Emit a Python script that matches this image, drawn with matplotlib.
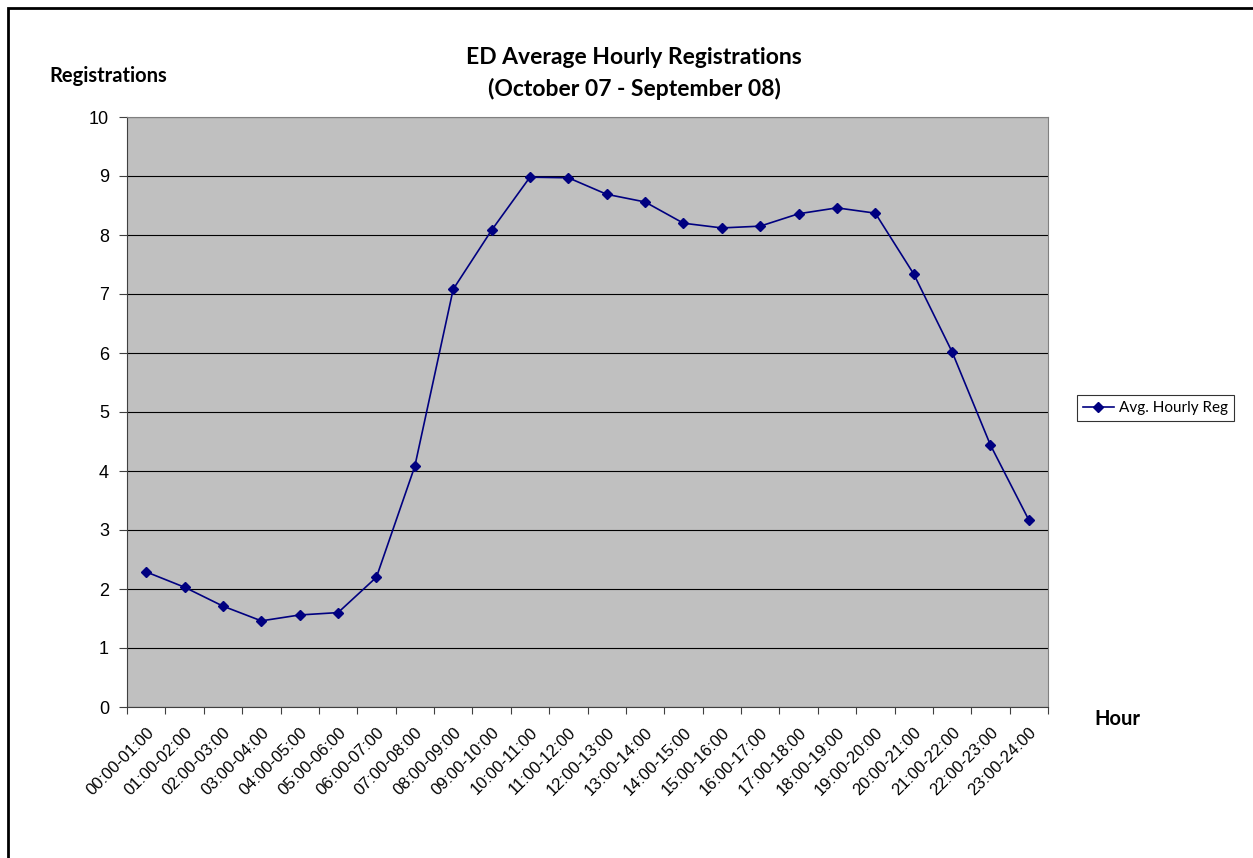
import matplotlib.pyplot as plt
import numpy as np
from matplotlib.patches import Rectangle

# hourly slots and average registrations
hours = ["00:00-01:00", "01:00-02:00", "02:00-03:00", "03:00-04:00", "04:00-05:00",
         "05:00-06:00", "06:00-07:00", "07:00-08:00", "08:00-09:00", "09:00-10:00",
         "10:00-11:00", "11:00-12:00", "12:00-13:00", "13:00-14:00", "14:00-15:00",
         "15:00-16:00", "16:00-17:00", "17:00-18:00", "18:00-19:00", "19:00-20:00",
         "20:00-21:00", "21:00-22:00", "22:00-23:00", "23:00-24:00"]
avg_reg = [2.29, 2.03, 1.71, 1.46, 1.56, 1.60, 2.20, 4.08, 7.08, 8.08,
           8.98, 8.97, 8.69, 8.56, 8.20, 8.12, 8.15, 8.36, 8.46, 8.37,
           7.34, 6.02, 4.44, 3.17]

fig = plt.figure(figsize=(12.53, 8.58), dpi=100)
ax = fig.add_axes([127 / 1253, 1 - 707 / 858, 921 / 1253, 590 / 858])

# outer chart frame (right/bottom edges run off the image)
fig.patches.append(Rectangle((8 / 1253, -0.05), 1.2, 1 - 8 / 858 + 0.05,
                             transform=fig.transFigure, fill=False,
                             edgecolor="black", linewidth=2))

x = np.arange(len(hours))
ax.set_facecolor("#c0c0c0")
ax.plot(x, avg_reg, color="#000080", marker="D", markersize=5.5,
        linewidth=1.2, label="Avg. Hourly Reg", zorder=3)

ax.set_xlim(-0.5, len(hours) - 0.5)
ax.set_ylim(0, 10)
ax.set_yticks(range(0, 11))
ax.yaxis.grid(True, color="black", linewidth=0.8)
ax.set_axisbelow(True)

# ticks sit on the category boundaries, labels centered on the points
ax.set_xticks(np.arange(-0.5, len(hours)), minor=False)
ax.set_xticklabels([])
ax.set_xticks(x, minor=True)
ax.set_xticklabels(hours, minor=True, rotation=45, ha="right",
                   rotation_mode="anchor", fontsize=12, family="Liberation Sans")
ax.tick_params(axis="x", which="minor", length=0, pad=13)
ax.tick_params(axis="x", which="major", length=5, color="#404040")
ax.tick_params(axis="y", length=6, pad=7, color="#404040", labelsize=13)
for lab in ax.get_yticklabels():
    lab.set_family("Liberation Sans")

for s in ["top", "right"]:
    ax.spines[s].set_color("#808080")
for s in ["left", "bottom"]:
    ax.spines[s].set_color("#404040")

fig.text(634 / 1253, 1 - 57 / 858, "ED Average Hourly Registrations",
         ha="center", va="center", fontsize=16.5, fontweight="bold", family="Lato")
fig.text(634 / 1253, 1 - 89 / 858, "(October 07 - September 08)",
         ha="center", va="center", fontsize=16.5, fontweight="bold", family="Lato")
fig.text(49 / 1253, 1 - 76 / 858, "Registrations", ha="left", va="center",
         fontsize=14.5, fontweight="bold", family="Lato")
fig.text(1117 / 1253, 1 - 719 / 858, "Hour", ha="center", va="center",
         fontsize=14.5, fontweight="bold", family="Lato")

leg = fig.legend(loc="center left", bbox_to_anchor=(1074 / 1253, 1 - 408 / 858),
                 frameon=True, fancybox=False, edgecolor="black",
                 prop={"family": "Lato", "size": 11}, handlelength=2.0,
                 borderpad=0.4, handletextpad=0.35, borderaxespad=0.2)
leg.get_frame().set_linewidth(0.8)

fig.savefig("out.png", dpi=100)
